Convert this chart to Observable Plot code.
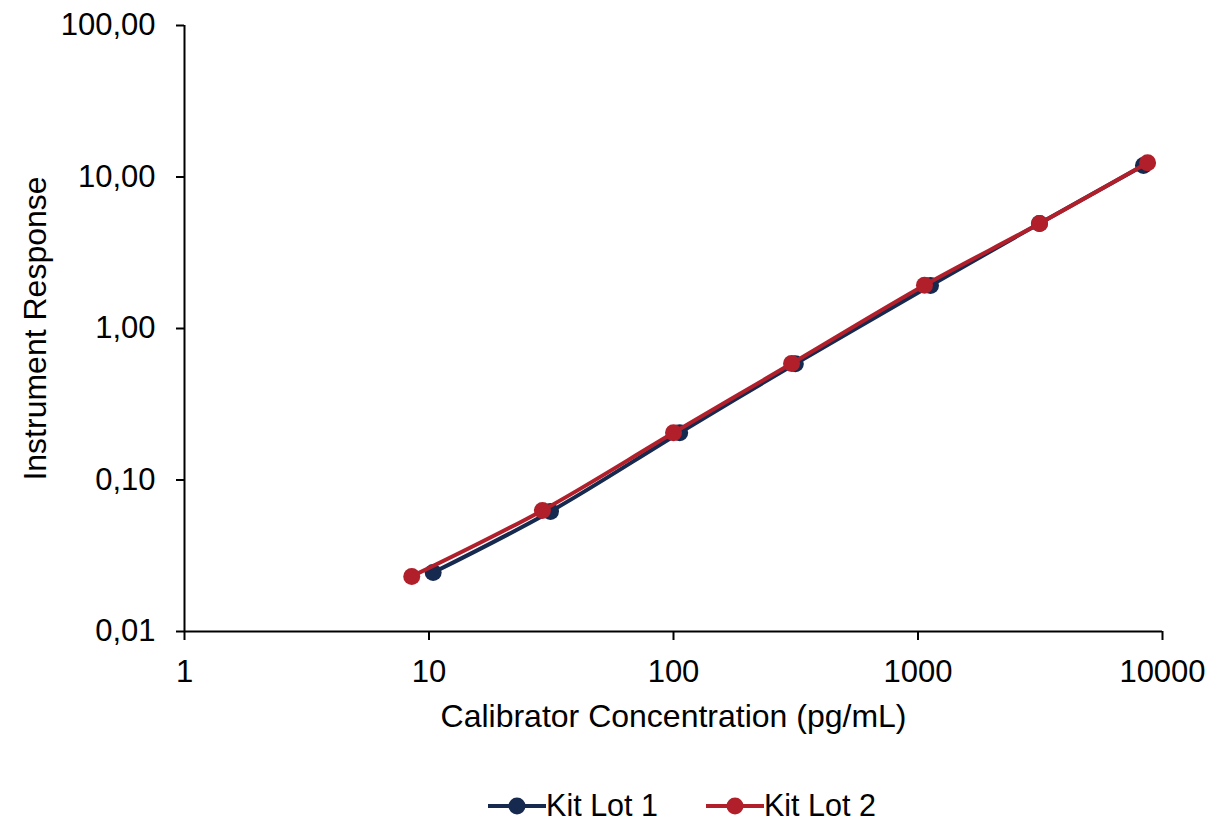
<!DOCTYPE html>
<html>
<head>
<meta charset="utf-8">
<script src="https://cdn.jsdelivr.net/npm/d3@7"></script>
<script src="https://cdn.jsdelivr.net/npm/@observablehq/plot@0.6"></script>
<style>
  body { margin: 0; background: #fff; font-family: "Liberation Sans", Arial, sans-serif; }
  #chart { width: 1224px; }
  .legend { display: flex; justify-content: center; gap: 48px; padding-left: 140px; font-size: 30.5px; color: #000; margin-top: 18px; }
  .legend .item { display: flex; align-items: center; }
</style>
</head>
<body>
<div id="chart"></div>
<script>
const seriesNames = ["Kit Lot 1", "Kit Lot 2"];
const seriesColors = ["#16294f", "#b11f2b"];
const lot1Conc = [10.4, 31.4, 106, 315, 1125, 3140, 8360];
const lot1Resp = [0.0245, 0.062, 0.205, 0.585, 1.92, 4.93, 11.9];
const lot2Conc = [8.5, 29.1, 100, 304, 1063, 3140, 8690];
const lot2Resp = [0.0231, 0.063, 0.205, 0.587, 1.93, 4.93, 12.4];
const xTicks = [1, 10, 100, 1000, 10000];
const yTicks = [0.01, 0.1, 1, 10, 100];

const rows = [];
lot1Conc.forEach((c, i) => rows.push({series: seriesNames[0], x: c, y: lot1Resp[i]}));
lot2Conc.forEach((c, i) => rows.push({series: seriesNames[1], x: c, y: lot2Resp[i]}));

const fmtY = d => d.toFixed(2).replace(".", ",");
const marks = [];
seriesNames.forEach((s, k) => {
  const data = rows.filter(r => r.series === s);
  marks.push(Plot.line(data, {x: "x", y: "y", stroke: seriesColors[k], strokeWidth: 4, curve: "catmull-rom"}));
  marks.push(Plot.dot(data, {x: "x", y: "y", fill: seriesColors[k], r: 8.5}));
});

const plot = Plot.plot({
  width: 1224,
  height: 770,
  marginLeft: 184,
  marginRight: 62,
  marginTop: 25,
  marginBottom: 139,
  style: {fontFamily: "'Liberation Sans', Arial, sans-serif", fontSize: "31px", color: "#000", background: "#fff"},
  x: {type: "log", domain: [1, 10000]},
  y: {type: "log", domain: [0.01, 100]},
  marks: [
    Plot.axisX({ticks: xTicks, tickFormat: d => String(d), tickSize: 9, tickPadding: 19, label: null, fontSize: 31, stroke: "#000", strokeWidth: 2, strokeOpacity: 1}),
    Plot.axisY({ticks: yTicks, tickFormat: fmtY, tickSize: 8, tickPadding: 21, label: null, fontSize: 31, stroke: "#000", strokeWidth: 2, strokeOpacity: 1}),
    Plot.ruleY([0.01], {stroke: "#000", strokeWidth: 2}),
    Plot.ruleX([1], {stroke: "#000", strokeWidth: 2}),
    ...marks,
    Plot.text(["Calibrator Concentration (pg/mL)"], {frameAnchor: "bottom", dy: 85, lineAnchor: "middle", textAnchor: "middle", fontSize: 32, fill: "#000"}),
    Plot.text(["Instrument Response"], {frameAnchor: "left", rotate: -90, dx: -149, lineAnchor: "middle", textAnchor: "middle", fontSize: 32, fill: "#000"})
  ]
});
document.getElementById("chart").appendChild(plot);

const legend = document.createElement("div");
legend.className = "legend";
seriesNames.forEach((s, k) => {
  const item = document.createElement("div");
  item.className = "item";
  item.innerHTML = `<svg width="58" height="24"><line x1="0" x2="58" y1="12" y2="12" stroke="${seriesColors[k]}" stroke-width="4"/><circle cx="29" cy="12" r="8.5" fill="${seriesColors[k]}"/></svg><span>${s}</span>`;
  legend.appendChild(item);
});
document.getElementById("chart").appendChild(legend);
</script>
</body>
</html>
